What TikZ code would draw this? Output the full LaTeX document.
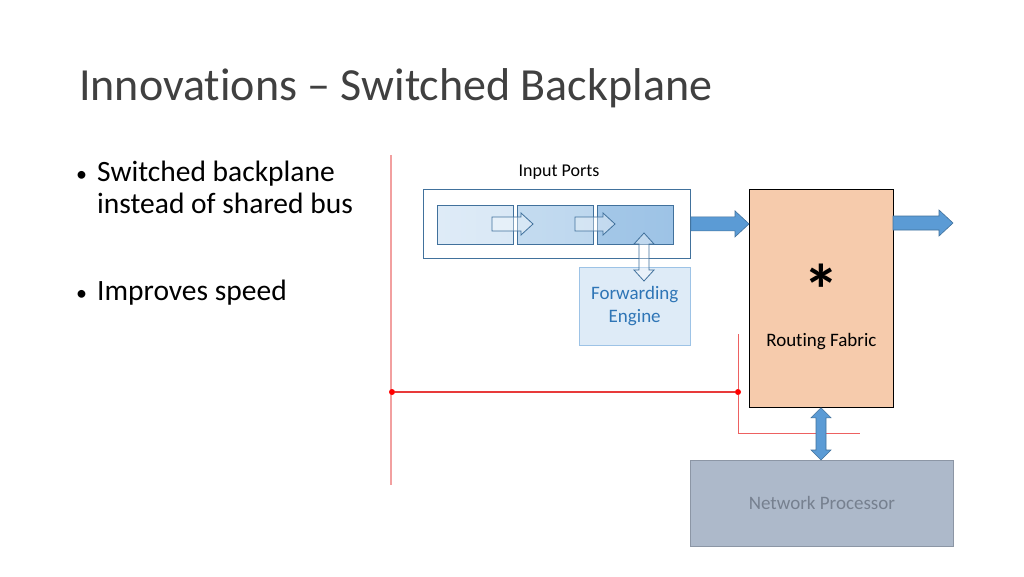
\documentclass[tikz,border=0pt]{standalone}
\usepackage{fontspec}
\setmainfont{Carlito}[Ligatures=NoCommon]
\usetikzlibrary{calc}
\definecolor{arrowblue}{HTML}{5B9BD5}
\definecolor{darkblue}{HTML}{41719C}
\definecolor{boxA}{HTML}{DEEBF7}
\definecolor{boxB}{HTML}{BDD7EE}
\definecolor{boxC}{HTML}{9DC3E6}
\definecolor{feborder}{HTML}{9DC3E6}
\definecolor{fetext}{HTML}{2E75B6}
\definecolor{rffill}{HTML}{F6CBAC}
\definecolor{npfill}{HTML}{ADB9CA}
\definecolor{npborder}{HTML}{8C96A5}
\definecolor{nptext}{HTML}{76808F}
\definecolor{pinkline}{HTML}{F2A0A0}
\definecolor{redline}{HTML}{E83A3A}
\definecolor{titlegray}{HTML}{404040}
\tikzset{
  box/.style={draw, anchor=north west, inner sep=0pt, align=center},
  stage/.style={box, draw=darkblue, minimum width=76pt, minimum height=39pt},
  bluearrow/.style={fill=arrowblue, draw=darkblue, line width=0.6pt},
  hollowarrow/.style={fill=white, fill opacity=0.35, draw=darkblue, line width=0.8pt},
  reddot/.style={circle, fill=red, inner sep=0pt, minimum size=6pt},
  bullettext/.style={anchor=base west, inner sep=0pt, align=left, text=black, font=\fontsize{29.5}{32}\selectfont},
  bulletmark/.style={anchor=base west, inner sep=0pt, font=\fontsize{22}{22}\selectfont},
  smalltext/.style={font=\fontsize{19}{23}\selectfont},
}
% horizontal block arrow: #1 start, #2 end, #3 shaft half width, #4 head half width, #5 head length, #6 style
\newcommand{\hblock}[6]{%
  \path[#6] let \p1=(#1), \p2=(#2) in
    (\x1,{\y1+#3}) -- ({\x2-#5},{\y1+#3}) -- ({\x2-#5},{\y1+#4}) -- (\x2,\y1)
    -- ({\x2-#5},{\y1-#4}) -- ({\x2-#5},{\y1-#3}) -- (\x1,{\y1-#3}) -- cycle;}
% vertical double block arrow: #1 top, #2 bottom
\newcommand{\vdouble}[6]{%
  \path[#6] let \p1=(#1), \p2=(#2) in
    (\x1,\y1) -- ({\x1+#4},{\y1-#5}) -- ({\x1+#3},{\y1-#5}) -- ({\x1+#3},{\y2+#5})
    -- ({\x1+#4},{\y2+#5}) -- (\x1,\y2) -- ({\x1-#4},{\y2+#5}) -- ({\x1-#3},{\y2+#5})
    -- ({\x1-#3},{\y1-#5}) -- ({\x1-#4},{\y1-#5}) -- cycle;}
\begin{document}
\begin{tikzpicture}[x=1pt,y=-1pt]
\useasboundingbox[fill=white] (0,0) rectangle (1024,576);

% title and bullets
\node[anchor=base west, inner sep=0pt, text=titlegray, font=\fontsize{46}{52}\selectfont] (title) at (79,100) {Innovations -- Switched Backplane};
\node[bulletmark] (bul1) at (76,181) {\textbullet};
\node[bullettext] (b1) at (97,213) {Switched backplane\\instead of shared bus};
\node[bulletmark] (bul2) at (76,300) {\textbullet};
\node[bullettext] (b2) at (97,300) {Improves speed};

% red lines
\coordinate (l1t) at (391,155);
\coordinate (l1b) at (391,485);
\draw[pinkline, line width=1.2pt] (l1t) -- (l1b);
\node[reddot] (d1) at (392,392) {};
\node[reddot] (d2) at (738,392) {};
\draw[redline, line width=1.3pt] (d1) -- (d2);
\coordinate (r1t) at (738,334);
\coordinate (r1c) at (738,433);
\coordinate (r1e) at (860,433);
\draw[redline!80, line width=0.7pt] (r1t) -- (d2) -- (r1c) -- (r1e);

% input ports
\node[font=\fontsize{18}{22}\selectfont] (iplabel) at (559,172) {Input Ports};
\node[box, draw=darkblue, line width=0.8pt, minimum width=267pt, minimum height=69pt] (outer) at (423,189) {};
\node[stage, left color=boxA, right color=boxA!85!boxB] (s1) at (437,205) {};
\node[stage, left color=boxB!80!boxA, right color=boxB] (s2) at (517,205) {};
\node[stage, left color=boxC!80!boxB, right color=boxC] (s3) at (597,205) {};

% forwarding engine
\node[box, smalltext, draw=feborder, fill=boxA, minimum width=111pt, minimum height=78pt, text=fetext] (fe) at (579,267) {Forwarding\\Engine};

% hollow arrows between stages
\coordinate (h1a) at (492,224);
\coordinate (h1b) at (533,224);
\hblock{h1a}{h1b}{7pt}{11pt}{12pt}{hollowarrow}
\coordinate (h2a) at (575,224);
\coordinate (h2b) at (615,224);
\hblock{h2a}{h2b}{7pt}{11pt}{12pt}{hollowarrow}
% double hollow arrow between forwarding engine and stage 3
\coordinate (v1a) at (644,233);
\coordinate (v1b) at (644,281);
\vdouble{v1a}{v1b}{5pt}{10pt}{11pt}{hollowarrow}

% routing fabric
\node[box, draw=black, fill=rffill, line width=0.8pt, minimum width=144pt, minimum height=218pt] (rf) at (749,189) {};
\node[anchor=base, inner sep=0pt, font=\fontsize{72}{72}\selectfont\bfseries] (star) at ($(rf.north)+(0,126)$) {\smash{*}};
\node[smalltext] (rflabel) at ($(rf.north)+(0,153)$) {Routing Fabric};

% blue arrows
\coordinate (a1s) at ($(outer.east)+(0,0)$);
\coordinate (a1e) at (rf.west |- outer.east);
\hblock{a1s}{a1e}{7pt}{13pt}{14pt}{bluearrow}
\coordinate (a2s) at (893,223);
\coordinate (a2e) at (953,223);
\hblock{a2s}{a2e}{7pt}{13pt}{14pt}{bluearrow}

% network processor
\node[box, smalltext, draw=npborder, fill=npfill, line width=0.8pt, minimum width=263pt, minimum height=86pt, text=nptext] (np) at (690,460) {Network Processor};

\coordinate (v2a) at (rf.south -| 821,0);
\coordinate (v2b) at (np.north -| 821,0);
\vdouble{v2a}{v2b}{5pt}{10pt}{10pt}{bluearrow}
\end{tikzpicture}
\end{document}
